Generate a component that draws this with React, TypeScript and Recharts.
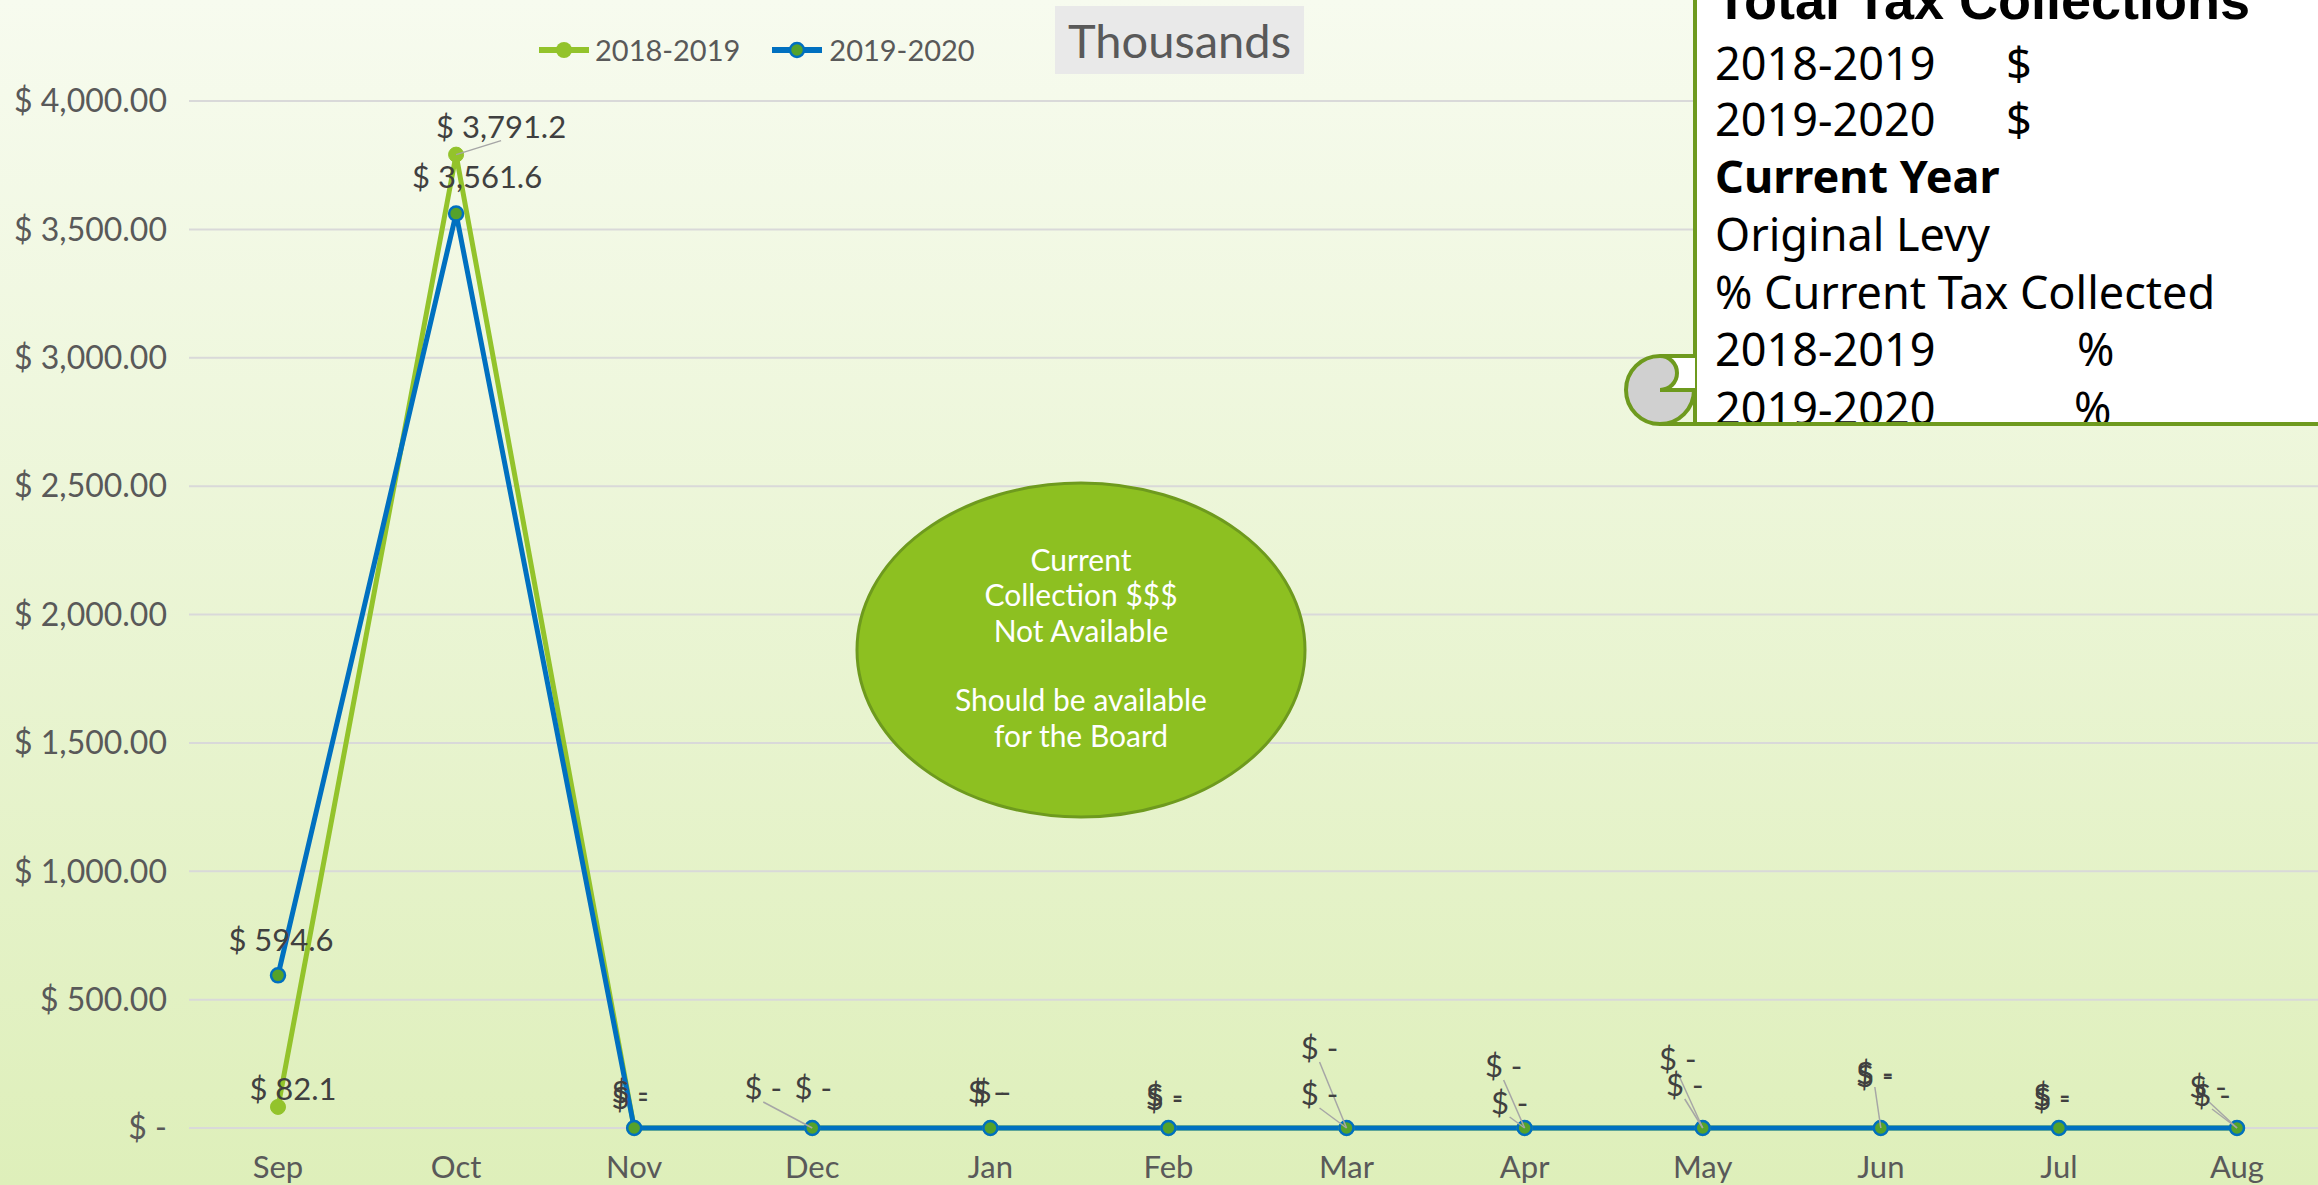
import React from 'react';
import { LineChart, Line, XAxis, YAxis, CartesianGrid, Legend, LabelList } from 'recharts';

// monthly collections, in thousands of dollars
const months = ['Sep', 'Oct', 'Nov', 'Dec', 'Jan', 'Feb', 'Mar', 'Apr', 'May', 'Jun', 'Jul', 'Aug'];
const collected1819 = [82.1, 3791.2, 0, 0, 0, 0, 0, 0, 0, 0, 0, 0];
const collected1920 = [594.6, 3561.6, 0, 0, 0, 0, 0, 0, 0, 0, 0, 0];
const seriesNames = ['2018-2019', '2019-2020'];
const dollarTicks = [0, 500, 1000, 1500, 2000, 2500, 3000, 3500, 4000];

// data label nudges (label centre relative to its point), like the hand-placed labels in the original
const dx1819 = [15, 45, -4, -49, -4, -4, -27, -21, -25, -6, -7, -29];
const dy1819 = [-18, -28, -36, -40, -36, -33, -80, -62, -69, -55, -33, -41];
const lead1819 = [false, true, false, true, false, false, true, true, true, true, false, true];
const dx1920 = [3, 21, -4, 1, 2, -4, -27, -15, -18, -6, -7, -25];
const dy1920 = [-35, -37, -30, -40, -36, -29, -34, -25, -43, -52, -29, -33];
const lead1920 = [false, false, false, false, false, false, true, true, true, false, false, true];

const chartData = months.map((m, i) => ({ month: m, fy1819: collected1819[i], fy1920: collected1920[i] }));

const GREEN = '#93C32B';
const BLUE = '#0070C0';
const DOT_GREEN = '#55A22B';
const AXIS_GRAY = '#595959';
const BORDER_GREEN = '#6E9A1E';
const FONT = 'Lato, "Open Sans", sans-serif';
const BOX_FONT = '"Noto Sans", Lato, sans-serif';

const fmtTick = (v: number) =>
    v === 0 ? '$ -' : '$ ' + v.toLocaleString('en-US', { minimumFractionDigits: 2, maximumFractionDigits: 2 });
const fmtLabel = (v: number) =>
    v === 0 ? '$ -' : '$ ' + v.toLocaleString('en-US', { minimumFractionDigits: 1, maximumFractionDigits: 1 });

function makeLabel(dxs: number[], dys: number[], leads: boolean[]) {
    return (props: any) => {
        const { x, y, value, index } = props;
        const cx = x + dxs[index];
        const cy = y + dys[index];
        return (
            <g>
                {leads[index] && (
                    <line x1={x} y1={y} x2={cx} y2={cy + 14} stroke="#A6A6A6" strokeWidth={1.5} />
                )}
                <text x={cx} y={cy + 11} textAnchor="middle" fontFamily={FONT} fontSize={31} fill="#404040">
                    {fmtLabel(value)}
                </text>
            </g>
        );
    };
}

const renderLegend = () => (
    <div style={{ display: 'flex', alignItems: 'center', fontFamily: FONT, fontSize: 29, color: AXIS_GRAY, lineHeight: '36px' }}>
        <svg width={50} height={20}>
            <line x1={0} x2={50} y1={10} y2={10} stroke={GREEN} strokeWidth={6} />
            <circle cx={25} cy={10} r={8} fill={GREEN} />
        </svg>
        <span style={{ marginLeft: 6 }}>{seriesNames[0]}</span>
        <svg width={50} height={20} style={{ marginLeft: 32 }}>
            <line x1={0} x2={50} y1={10} y2={10} stroke={BLUE} strokeWidth={6} />
            <circle cx={25} cy={10} r={7} fill={DOT_GREEN} stroke={BLUE} strokeWidth={2.5} />
        </svg>
        <span style={{ marginLeft: 7 }}>{seriesNames[1]}</span>
    </div>
);

export default function App() {
    return (
        <div
            style={{
                position: 'fixed',
                left: 0,
                top: 0,
                width: 2318,
                height: 1185,
                overflow: 'hidden',
                background: 'linear-gradient(to bottom, #F7FBEF 0%, #DEEFBA 100%)',
            }}
        >
            <LineChart width={2330} height={1185} data={chartData} margin={{ top: 101, right: 4, bottom: 0, left: 0 }}>
                <CartesianGrid vertical={false} stroke="#D9D9D9" strokeWidth={2} />
                <XAxis
                    dataKey="month"
                    axisLine={false}
                    tickLine={false}
                    tickSize={0}
                    tickMargin={28}
                    height={57}
                    interval={0}
                    padding={{ left: 89, right: 89 }}
                    tick={{ fill: AXIS_GRAY, fontSize: 31, fontFamily: FONT }}
                />
                <YAxis
                    domain={[0, 4000]}
                    ticks={dollarTicks}
                    axisLine={false}
                    tickLine={false}
                    tickSize={0}
                    tickMargin={22}
                    width={189}
                    tickFormatter={fmtTick}
                    tick={{ fill: AXIS_GRAY, fontSize: 32, fontFamily: FONT }}
                />
                <Legend
                    layout="horizontal"
                    verticalAlign="middle"
                    align="center"
                    content={renderLegend}
                    wrapperStyle={{ position: 'absolute', top: 32, left: 539, width: 'auto' }}
                />
                <Line
                    type="linear"
                    dataKey="fy1819"
                    name={seriesNames[0]}
                    stroke={GREEN}
                    strokeWidth={5}
                    dot={{ r: 7.5, fill: GREEN, stroke: GREEN, strokeWidth: 1 }}
                    isAnimationActive={false}
                >
                    <LabelList dataKey="fy1819" content={makeLabel(dx1819, dy1819, lead1819)} />
                </Line>
                <Line
                    type="linear"
                    dataKey="fy1920"
                    name={seriesNames[1]}
                    stroke={BLUE}
                    strokeWidth={5}
                    dot={{ r: 7, fill: DOT_GREEN, stroke: BLUE, strokeWidth: 2.5 }}
                    isAnimationActive={false}
                >
                    <LabelList dataKey="fy1920" content={makeLabel(dx1920, dy1920, lead1920)} />
                </Line>
            </LineChart>

            {/* "Thousands" tag */}
            <div
                style={{
                    position: 'absolute',
                    left: 1055,
                    top: 6,
                    width: 249,
                    height: 68,
                    background: '#E9E9E9',
                    color: AXIS_GRAY,
                    fontFamily: FONT,
                    fontSize: 47,
                    lineHeight: '68px',
                    textAlign: 'center',
                }}
            >
                Thousands
            </div>

            {/* callout oval + scroll box */}
            <svg width={2318} height={1185} style={{ position: 'absolute', left: 0, top: 0, pointerEvents: 'none' }}>
                <ellipse cx={1081} cy={650} rx={224} ry={167} fill="#8DC021" stroke={BORDER_GREEN} strokeWidth={3} />
                <g fill="#FFFFFF" fontFamily={FONT} fontSize={30} textAnchor="middle">
                    <text x={1081} y={571}>Current</text>
                    <text x={1081} y={606}>Collection $$$</text>
                    <text x={1081} y={642}>Not Available</text>
                    <text x={1081} y={711}>Should be available</text>
                    <text x={1081} y={747}>for the Board</text>
                </g>

                <defs>
                    <clipPath id="boxClip">
                        <rect x={1697} y={-20} width={700} height={442} />
                    </clipPath>
                </defs>
                <rect x={1695} y={-20} width={700} height={444} fill="#FFFFFF" stroke={BORDER_GREEN} strokeWidth={4} />
                <g clipPath="url(#boxClip)" fontFamily={BOX_FONT} fontSize={45} fill="#000000">
                    <text x={1715} y={19} fontFamily='"Liberation Sans", Arial, sans-serif' fontWeight={700} fontSize={54}>
                        Total Tax Collections
                    </text>
                    <text x={1715} y={80}>2018-2019</text>
                    <text x={2006} y={80}>$</text>
                    <text x={1715} y={136}>2019-2020</text>
                    <text x={2006} y={136}>$</text>
                    <text x={1715} y={193} fontWeight={700}>Current Year</text>
                    <text x={1715} y={251}>Original Levy</text>
                    <text x={1715} y={309}>% Current Tax Collected</text>
                    <text x={1715} y={366}>2018-2019</text>
                    <text x={2077} y={366}>%</text>
                    <text x={1715} y={425}>2019-2020</text>
                    <text x={2074} y={425}>%</text>
                </g>
                {/* scroll curl */}
                <circle cx={1660} cy={390} r={34} fill="#D0D0D0" stroke={BORDER_GREEN} strokeWidth={4} />
                <rect x={1660} y={356} width={35} height={34} fill="#FFFFFF" />
                <path d="M1660,356 L1695,356 M1660,390 L1695,390" stroke={BORDER_GREEN} strokeWidth={4} fill="none" />
                <path d="M1660,356 A17,17 0 0 1 1660,390" fill="#D0D0D0" stroke={BORDER_GREEN} strokeWidth={4} />
                <line x1={1660} y1={424} x2={1700} y2={424} stroke={BORDER_GREEN} strokeWidth={4} />
            </svg>
        </div>
    );
}
